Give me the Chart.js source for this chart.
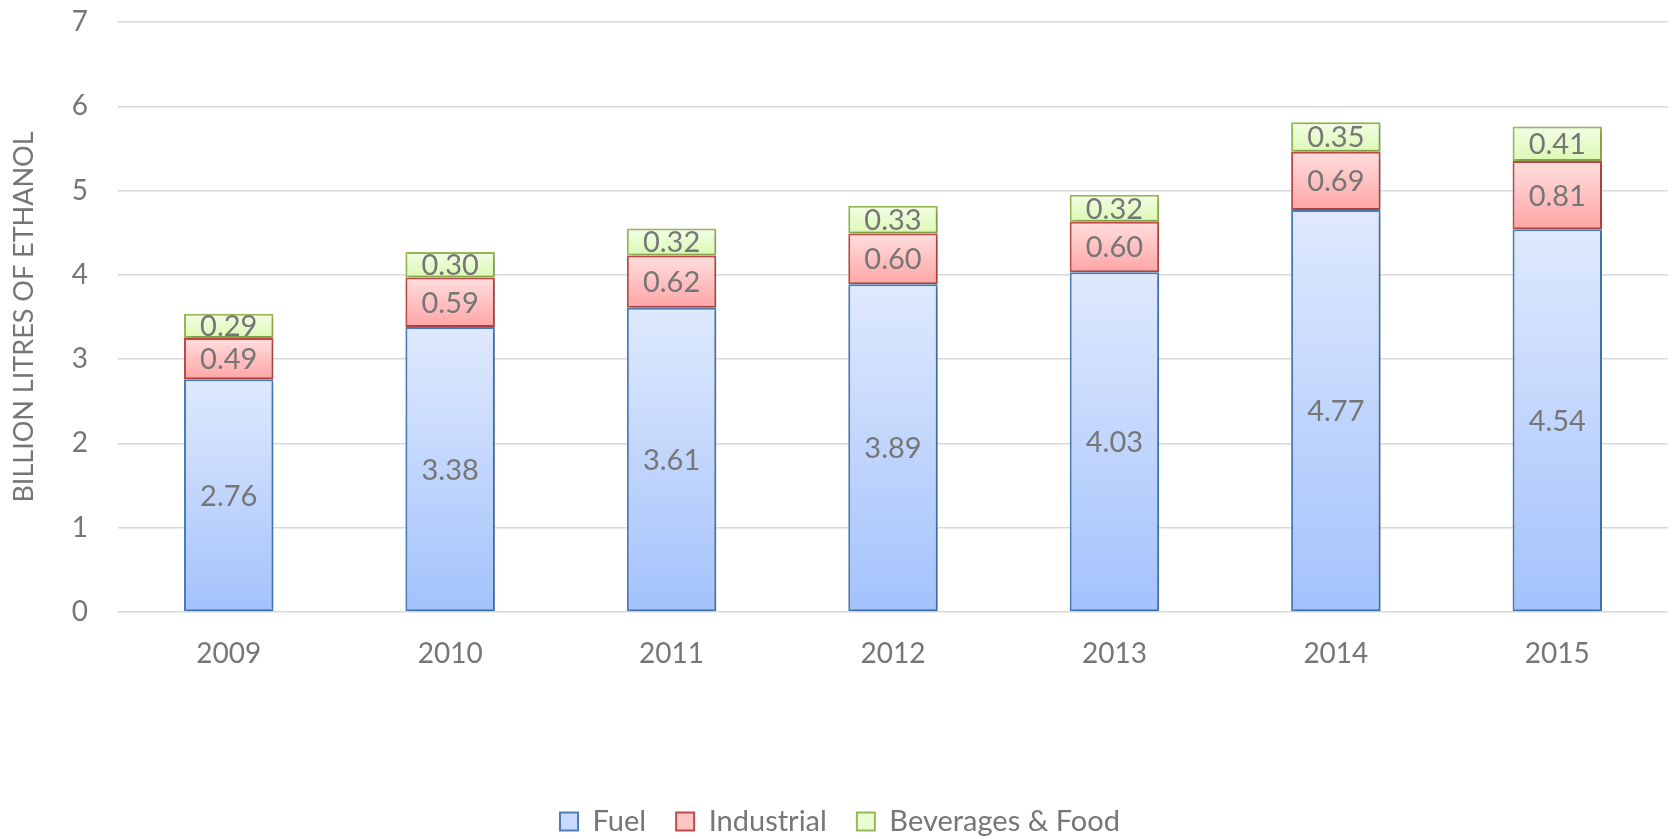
<!DOCTYPE html>
<html>
<head>
<meta charset="utf-8">
<script src="https://cdn.jsdelivr.net/npm/chart.js@4.4.1/dist/chart.umd.min.js"></script>
<style>
  html, body { margin: 0; padding: 0; background: #fff; }
  #wrap { width: 1672px; height: 839px; }
</style>
</head>
<body>
<div id="wrap"><canvas id="ethanolChart" width="1672" height="839"></canvas></div>
<script>
const years = ["2009", "2010", "2011", "2012", "2013", "2014", "2015"];
const fuel = [2.76, 3.38, 3.61, 3.89, 4.03, 4.77, 4.54];
const industrial = [0.49, 0.59, 0.62, 0.60, 0.60, 0.69, 0.81];
const beverages = [0.29, 0.30, 0.32, 0.33, 0.32, 0.35, 0.41];
const yMin = 0;
const yMax = 7;

const allSeries = [fuel, industrial, beverages];
const GRAY = "#767676";
const FONT = "Lato";

// vertical gradient per stacked segment (light top, darker bottom)
function segGradient(top, bottom, seriesIndex) {
  return (ctx) => {
    const chart = ctx.chart;
    const y = chart.scales.y;
    if (!y || !chart.chartArea || ctx.type !== "data") return top;
    const i = ctx.dataIndex;
    let start = 0;
    for (let s = 0; s < seriesIndex; s++) start += allSeries[s][i];
    const end = start + allSeries[seriesIndex][i];
    const y0 = y.getPixelForValue(end);
    const y1 = y.getPixelForValue(start);
    if (!isFinite(y0) || !isFinite(y1) || y0 === y1) return top;
    const g = chart.ctx.createLinearGradient(0, y0, 0, y1);
    g.addColorStop(0, top);
    g.addColorStop(1, bottom);
    return g;
  };
}

// value in the middle of each segment
const valueLabels = {
  id: "valueLabels",
  afterDatasetsDraw(chart) {
    const c = chart.ctx;
    c.save();
    c.font = "29px " + FONT;
    c.fillStyle = GRAY;
    c.textAlign = "center";
    c.textBaseline = "middle";
    chart.data.datasets.forEach((ds, di) => {
      chart.getDatasetMeta(di).data.forEach((bar, i) => {
        const p = bar.getProps(["x", "y", "base"], true);
        c.fillText(ds.data[i].toFixed(2), p.x, (p.y + p.base) / 2 + 1);
      });
    });
    c.restore();
  }
};

// soft shadow behind the bars
const barShadow = {
  id: "barShadow",
  beforeDatasetsDraw(chart) {
    const c = chart.ctx;
    c.save();
    c.shadowColor = "rgba(0,0,0,0.22)";
    c.shadowBlur = 5;
    c.shadowOffsetX = 2;
    c.shadowOffsetY = 2;
  },
  afterDatasetsDraw(chart) {
    chart.ctx.restore();
  }
};

// nudge the legend to where it sits in the original
const legendShift = {
  id: "legendShift",
  afterLayout(chart) {
    const lg = chart.legend;
    lg.top += 7; lg.bottom += 7;
    lg.left += 6; lg.right += 6;
  }
};

const legendFill = ["#c9dafc", "#ffc4c4", "#eafcd0"];

function draw() {
  new Chart(document.getElementById("ethanolChart"), {
    type: "bar",
    data: {
      labels: years,
      datasets: [
        { label: "Fuel", data: fuel, backgroundColor: segGradient("#dfe9fd", "#a3c2fc", 0), borderColor: "#4a7ebb", borderWidth: 2, borderSkipped: false },
        { label: "Industrial", data: industrial, backgroundColor: segGradient("#ffdede", "#ffa5a5", 1), borderColor: "#be4b48", borderWidth: 2, borderSkipped: false },
        { label: "Beverages & Food", data: beverages, backgroundColor: segGradient("#f3fde6", "#dbf9b3", 2), borderColor: "#98b954", borderWidth: 2, borderSkipped: false }
      ]
    },
    options: {
      responsive: false,
      animation: false,
      devicePixelRatio: 1,
      barPercentage: 0.404,
      categoryPercentage: 1,
      layout: { padding: { top: 22, right: 4, left: 0, bottom: 0 } },
      scales: {
        x: {
          stacked: true,
          grid: { display: false, drawTicks: false },
          border: { display: false },
          ticks: { color: GRAY, font: { family: FONT, size: 28 }, padding: 25 },
          afterFit(scale) { scale.height = 158; }
        },
        y: {
          stacked: true,
          min: yMin,
          max: yMax,
          grid: { color: "#d9d9d9", lineWidth: 1.5, drawTicks: false },
          border: { display: false },
          ticks: { stepSize: 1, color: GRAY, font: { family: FONT, size: 28 }, padding: 30 },
          title: {
            display: true,
            text: "BILLION LITRES OF ETHANOL",
            color: GRAY,
            font: { family: FONT, size: 27 },
            padding: { top: 8, bottom: 0 }
          },
          afterFit(scale) { scale.width = 118; scale.paddingTop = 0; scale.paddingBottom = 0; }
        }
      },
      plugins: {
        legend: {
          position: "bottom",
          labels: {
            color: GRAY,
            font: { family: FONT, size: 29 },
            boxWidth: 18,
            boxHeight: 18,
            padding: 30,
            generateLabels(chart) {
              const items = Chart.defaults.plugins.legend.labels.generateLabels(chart);
              items.forEach((it, k) => { it.fillStyle = legendFill[k]; it.lineWidth = 2; });
              return items;
            }
          }
        },
        tooltip: { enabled: false }
      }
    },
    plugins: [barShadow, valueLabels, legendShift]
  });
}

document.fonts.load("28px " + FONT).then(draw, draw);
</script>
</body>
</html>
